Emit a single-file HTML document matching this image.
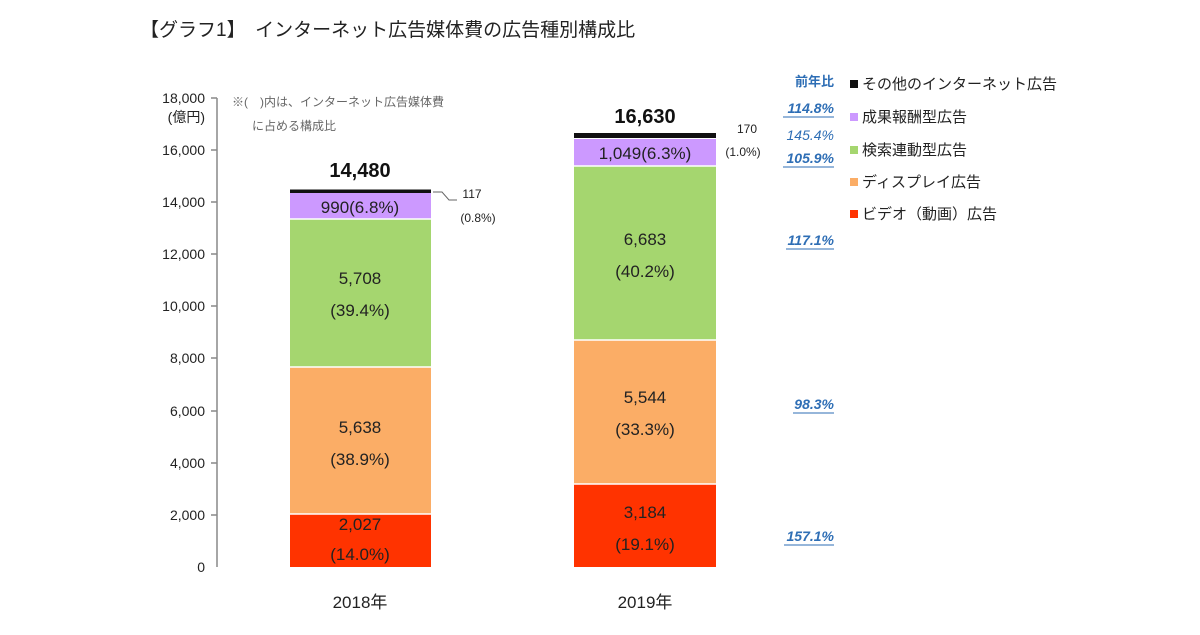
<!DOCTYPE html>
<html><head><meta charset="utf-8"><style>
body{margin:0;background:#fff;}
svg text{font-family:"Liberation Sans","Noto Sans CJK JP",sans-serif;}
</style></head><body>
<svg width="1200" height="630" viewBox="0 0 1200 630" xmlns="http://www.w3.org/2000/svg">
<rect width="1200" height="630" fill="#fff"/>
<text x="140" y="36" font-size="19" fill="#222">【グラフ1】　インターネット広告媒体費の広告種別構成比</text>
<line x1="217" y1="98" x2="217" y2="567" stroke="#888" stroke-width="1.5"/>
<g stroke="#888" stroke-width="1.5">
<line x1="211" y1="98" x2="217" y2="98"/><line x1="211" y1="150" x2="217" y2="150"/><line x1="211" y1="202" x2="217" y2="202"/><line x1="211" y1="254" x2="217" y2="254"/><line x1="211" y1="306" x2="217" y2="306"/><line x1="211" y1="358" x2="217" y2="358"/><line x1="211" y1="411" x2="217" y2="411"/><line x1="211" y1="463" x2="217" y2="463"/><line x1="211" y1="515" x2="217" y2="515"/>
</g>
<g font-size="14" fill="#222" text-anchor="end">
<text x="205" y="103">18,000</text><text x="205" y="122">(億円)</text>
<text x="205" y="155">16,000</text><text x="205" y="207">14,000</text><text x="205" y="259">12,000</text><text x="205" y="311">10,000</text><text x="205" y="363">8,000</text><text x="205" y="416">6,000</text><text x="205" y="468">4,000</text><text x="205" y="520">2,000</text><text x="205" y="572">0</text>
</g>
<text x="232" y="106" font-size="12" fill="#666">※(　)内は、インターネット広告媒体費</text>
<text x="252" y="130" font-size="12" fill="#666">に占める構成比</text>
<rect x="290" y="514" width="141" height="53" fill="#ff3300"/>
<rect x="290" y="367" width="141" height="147" fill="#fbad66"/>
<rect x="290" y="219" width="141" height="148" fill="#a5d66f"/>
<rect x="290" y="193" width="141" height="26" fill="#cc99ff"/>
<rect x="290" y="189.5" width="141" height="3.5" fill="#111"/>
<g stroke="#fff" stroke-width="1.5"><line x1="290" y1="514" x2="431" y2="514"/><line x1="290" y1="367" x2="431" y2="367"/><line x1="290" y1="219" x2="431" y2="219"/></g>
<rect x="574" y="484" width="142" height="83" fill="#ff3300"/>
<rect x="574" y="340" width="142" height="144" fill="#fbad66"/>
<rect x="574" y="166" width="142" height="174" fill="#a5d66f"/>
<rect x="574" y="139" width="142" height="27" fill="#cc99ff"/>
<rect x="574" y="133" width="142" height="5" fill="#111"/>
<g stroke="#fff" stroke-width="1.5"><line x1="574" y1="484" x2="716" y2="484"/><line x1="574" y1="340" x2="716" y2="340"/><line x1="574" y1="166" x2="716" y2="166"/></g>
<g font-size="17" fill="#222" text-anchor="middle">
<text x="360" y="530">2,027</text><text x="360" y="560">(14.0%)</text>
<text x="360" y="433">5,638</text><text x="360" y="465">(38.9%)</text>
<text x="360" y="284">5,708</text><text x="360" y="316">(39.4%)</text>
<text x="360" y="213">990(6.8%)</text>
<text x="645" y="518">3,184</text><text x="645" y="550">(19.1%)</text>
<text x="645" y="403">5,544</text><text x="645" y="435">(33.3%)</text>
<text x="645" y="245">6,683</text><text x="645" y="277">(40.2%)</text>
<text x="645" y="159">1,049(6.3%)</text>
</g>
<text x="360" y="177" font-size="20" font-weight="bold" text-anchor="middle" fill="#111">14,480</text>
<text x="645" y="123" font-size="20" font-weight="bold" text-anchor="middle" fill="#111">16,630</text>
<polyline points="433,192 442,192 449,200 457,200" fill="none" stroke="#666" stroke-width="1"/>
<text x="472" y="198" font-size="12" fill="#222" text-anchor="middle">117</text>
<text x="478" y="222" font-size="12" fill="#222" text-anchor="middle">(0.8%)</text>
<text x="747" y="133" font-size="12" fill="#222" text-anchor="middle">170</text>
<text x="743" y="156" font-size="12" fill="#222" text-anchor="middle">(1.0%)</text>
<g font-size="14" fill="#2e6eb5" font-style="italic" font-weight="bold" text-anchor="end">
<text x="834" y="113">114.8%</text><text x="834" y="140" font-weight="normal">145.4%</text><text x="834" y="163">105.9%</text>
<text x="834" y="245">117.1%</text><text x="834" y="409">98.3%</text><text x="834" y="541">157.1%</text>
</g>
<g stroke="#2e6eb5" stroke-width="1"><line x1="783" y1="117" x2="834" y2="117"/><line x1="783" y1="167" x2="834" y2="167"/><line x1="786" y1="249" x2="834" y2="249"/><line x1="793" y1="413" x2="834" y2="413"/><line x1="784" y1="545" x2="834" y2="545"/></g>
<text x="834" y="86" font-size="13" fill="#2e6eb5" font-weight="bold" text-anchor="end">前年比</text>
<g font-size="15" fill="#222">
<rect x="850" y="80" width="8" height="8" fill="#111"/><text x="862" y="89">その他のインターネット広告</text>
<rect x="850" y="113" width="8" height="8" fill="#cc99ff"/><text x="862" y="122">成果報酬型広告</text>
<rect x="850" y="146" width="8" height="8" fill="#a5d66f"/><text x="862" y="155">検索連動型広告</text>
<rect x="850" y="178" width="8" height="8" fill="#fbad66"/><text x="862" y="187">ディスプレイ広告</text>
<rect x="850" y="210" width="8" height="8" fill="#ff3300"/><text x="862" y="219">ビデオ（動画）広告</text>
</g>
<g font-size="17" fill="#222" text-anchor="middle">
<text x="360" y="608">2018年</text><text x="645" y="608">2019年</text>
</g>
</svg>
</body></html>
